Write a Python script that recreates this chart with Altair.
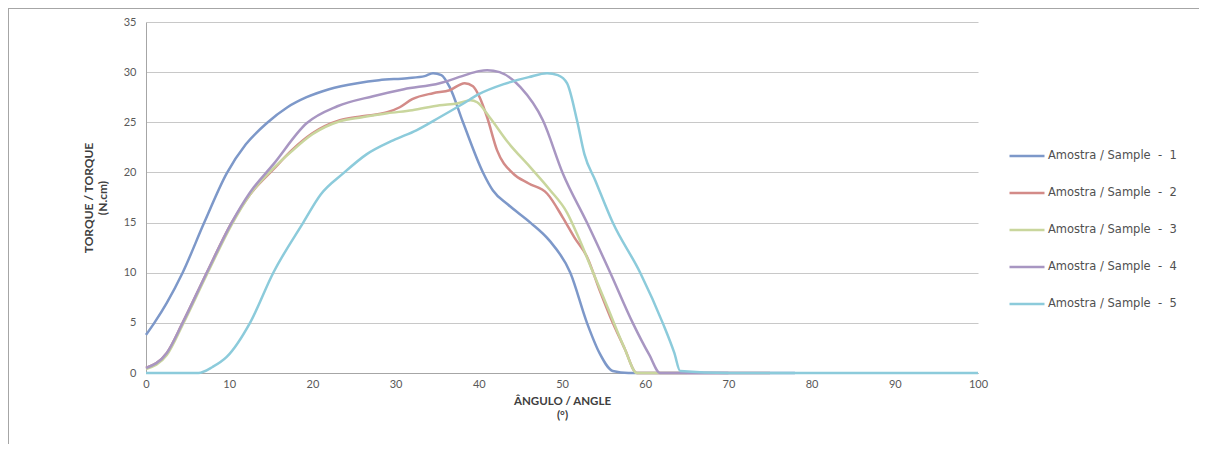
import altair as alt
import pandas as pd

# ---- data ----
s1_x = [0, 1, 2.5, 4.4, 7, 9.7, 12, 14.5, 17, 19.3, 22, 25.4, 28, 31.4, 33.5, 34.5, 35.5, 36.5, 38.1, 40.5, 41.7, 43.5, 46.2, 48.5, 51, 53, 54.5, 56.1, 58, 65, 78]
s1_y = [3.8, 5, 7, 10, 15, 19.9, 22.8, 24.9, 26.5, 27.5, 28.3, 28.9, 29.2, 29.4, 29.6, 29.9, 29.7, 28.5, 25, 20, 18.2, 16.8, 15, 13.2, 10, 5, 2, 0.2, 0, 0, 0]

s2_x = [0, 2.5, 4.4, 7.3, 10.3, 12.5, 15.3, 17.5, 20, 23.3, 26, 29, 30.5, 32, 34.5, 36.5, 38.3, 39.3, 40.1, 41, 42.2, 44.1, 46, 48.2, 50.1, 51.5, 53, 54.5, 56.1, 57.5, 59, 65, 75]
s2_y = [0.5, 2, 5, 10, 15, 17.8, 20.3, 22.2, 23.9, 25.2, 25.6, 26, 26.5, 27.3, 27.9, 28.2, 28.9, 28.6, 27.5, 25.5, 22.2, 19.9, 18.9, 17.9, 15.5, 13.5, 11.6, 8.3, 5, 2.5, 0, 0, 0]

s3_x = [0, 2.5, 4.4, 7.3, 10.3, 12.5, 15.3, 17.5, 20, 23.3, 26, 29, 32, 35.3, 37.5, 39, 39.8, 41.3, 43.5, 46.2, 48.5, 50.6, 52, 53.5, 55.5, 57.5, 59, 65]
s3_y = [0.4, 1.8, 4.8, 9.8, 14.8, 17.8, 20.4, 22.1, 23.8, 25.1, 25.5, 25.9, 26.2, 26.7, 26.9, 27.2, 27.0, 25.5, 23, 20.5, 18.3, 16, 13.5, 10.5, 6.5, 2.5, 0, 0]

s4_x = [0, 2.5, 4.4, 7.3, 10.3, 12.5, 15.3, 19.3, 23, 27.3, 31, 35.3, 38, 40, 41, 42.5, 45, 47.7, 50.1, 53, 55.8, 58.5, 60.5, 61.8, 70]
s4_y = [0.5, 2, 5, 10, 15, 18, 20.8, 24.9, 26.6, 27.6, 28.3, 28.9, 29.6, 30.1, 30.2, 30, 28.5, 25.2, 19.9, 15, 10, 5, 1.8, 0, 0]

s5_x = [0, 6.3, 8, 9.7, 12.5, 15.3, 18.9, 21, 23.7, 26.5, 29.7, 32.5, 35.3, 38, 40, 43, 46, 48.2, 49.5, 50.6, 51.8, 52.7, 54, 56.1, 59.4, 62.1, 63.5, 64.2, 70, 100]
s5_y = [0, 0, 0.6, 1.6, 5, 10, 15, 17.8, 19.9, 21.8, 23.2, 24.2, 25.5, 26.8, 27.8, 28.8, 29.5, 29.9, 29.7, 28.9, 25.2, 21.8, 19.2, 15, 10, 5, 2, 0.2, 0, 0]

NB = "\u00a0"
series_names = [f"Amostra / Sample{NB}{NB}-{NB}{NB}{k}" for k in ["1", "2", "3", "4", "5"]]
series_colors = ["#7d98c9", "#d38b88", "#c9d69d", "#a896c2", "#8ccbdb"]
x_ticks = [0, 10, 20, 30, 40, 50, 60, 70, 80, 90, 100]
y_ticks = [0, 5, 10, 15, 20, 25, 30, 35]

rows = []
for name, xs, ys in zip(series_names, [s1_x, s2_x, s3_x, s4_x, s5_x], [s1_y, s2_y, s3_y, s4_y, s5_y]):
    for i, (a, b) in enumerate(zip(xs, ys)):
        rows.append({"serie": name, "angulo": a, "torque": b, "ord": i})
df = pd.DataFrame(rows)

FONT = "Lato"

lines = alt.Chart(df).mark_line(interpolate="monotone", strokeWidth=2.5).encode(
    x=alt.X("angulo:Q", scale=alt.Scale(domain=[0, 100], nice=False),
            axis=alt.Axis(values=x_ticks, title=["ÂNGULO / ANGLE", "(°)"], grid=False,
                          ticks=False, labelPadding=5, titlePadding=6, titleFontSize=11.5)),
    y=alt.Y("torque:Q", scale=alt.Scale(domain=[0, 35], nice=False),
            axis=alt.Axis(values=y_ticks, title=["TORQUE / TORQUE", "(N.cm)"], grid=True,
                          ticks=False, labelPadding=10, titlePadding=14, titleFontSize=12)),
    color=alt.Color("serie:N", scale=alt.Scale(domain=series_names, range=series_colors),
                    legend=alt.Legend(title=None, orient="none", legendX=862, legendY=115,
                                      symbolType="stroke", symbolSize=1225, symbolStrokeWidth=2.5,
                                      rowPadding=12, labelFontSize=11.5, labelColor="#505050",
                                      labelFont="DejaVu Sans", labelOffset=2, padding=0)),
    order="ord:Q",
)

frame_top = alt.Chart(df).mark_rule(color="#a6a6a6", strokeWidth=1).encode(
    x=alt.value(-138), x2=alt.value(1060), y=alt.value(-13.5))
frame_left = alt.Chart(df).mark_rule(color="#a6a6a6", strokeWidth=1).encode(
    x=alt.value(-137.5), y=alt.value(-14), y2=alt.value(430))

chart = alt.layer(frame_top, frame_left, lines).properties(
    width=832, height=351,
    autosize=alt.AutoSizeParams(type="none"),
    padding={"left": 138, "top": 14, "right": 221, "bottom": 71},
).configure_view(stroke=None).configure_axis(
    labelFont=FONT, titleFont=FONT, labelFontSize=11, labelColor="#595959",
    titleFontWeight="bold", titleColor="#404040", titleLineHeight=14,
    domainColor="#a6a6a6", gridColor="#c8c8c8", gridWidth=1,
).configure_axisX(labelFlush=False)

chart.save("out.html", embed_options={"renderer": "svg", "actions": False})
